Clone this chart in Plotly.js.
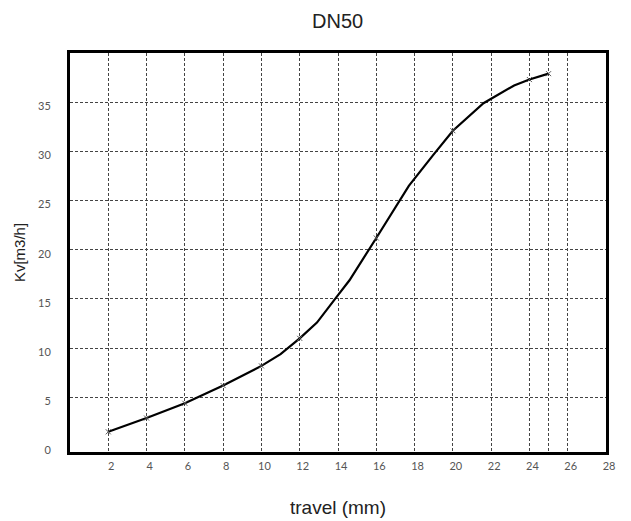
<!DOCTYPE html>
<html>
<head>
<meta charset="utf-8">
<script src="https://cdn.plot.ly/plotly-3.0.1.min.js"></script>
<style>html,body{margin:0;padding:0;background:#fff;}#chart{width:631px;height:521px;}</style>
</head>
<body>
<div id="chart"></div>
<script>
// Curve (travel in mm, Kv in m3/h)
const travel = [2, 4, 6, 8, 10, 11, 12, 12.9, 14, 14.6, 16, 17.7, 19, 20, 21.6, 23.2, 24, 25];
const kv     = [1.5, 2.9, 4.4, 6.2, 8.2, 9.4, 11.0, 12.6, 15.4, 16.9, 21.2, 26.5, 29.7, 32.1, 34.9, 36.7, 37.3, 37.9];
// Measured points marked with small crosses
const markTravel = [2, 4, 6, 8, 10, 12, 16, 20, 24, 25];
const markKv     = [1.5, 2.9, 4.4, 6.2, 8.2, 11.0, 21.2, 32.1, 37.3, 37.9];
// Axis ticks
const xTicks = [2, 4, 6, 8, 10, 12, 14, 16, 18, 20, 22, 24, 26, 28];
const xGridExtra = [25];
const yTicks = [0, 5, 10, 15, 20, 25, 30, 35];
const yGrid = [5, 10, 15, 20, 25, 30, 35];

const tickFont = {family: 'Lato, "DejaVu Sans", sans-serif', size: 11, color: '#555'};
const gridDash = '3px,2px';
const yRange = [-0.55, 40];

const traces = [
  {
    x: travel, y: kv, type: 'scatter', mode: 'lines',
    line: {color: '#000', width: 2.2}, hoverinfo: 'skip', showlegend: false
  },
  {
    x: markTravel, y: markKv, type: 'scatter', mode: 'markers', yaxis: 'y2',
    marker: {symbol: 'x-thin', size: 5, line: {color: '#555', width: 1}},
    hoverinfo: 'skip', showlegend: false
  }
];

const layout = {
  width: 631, height: 521,
  margin: {l: 70, r: 25, t: 53, b: 69},
  paper_bgcolor: '#fff', plot_bgcolor: '#fff',
  title: {text: 'DN50', font: {family: '"Liberation Sans", Arial, sans-serif', size: 20, color: '#222'}, x: 0.535, xanchor: 'center', y: 0.96, yanchor: 'middle'},
  xaxis: {
    range: [0, 28], tickvals: xTicks.concat(xGridExtra), ticktext: xTicks.map(String).concat(['']),
    showgrid: true, gridcolor: '#444', griddash: gridDash, gridwidth: 1,
    zeroline: false, showline: true, linecolor: '#000', linewidth: 3, mirror: true,
    ticks: 'outside', ticklen: 2, tickcolor: 'rgba(0,0,0,0)', ticklabelshift: 3,
    tickfont: tickFont,
    title: {text: 'travel (mm)', font: {family: '"Liberation Sans", Arial, sans-serif', size: 19, color: '#222'}, standoff: 30}
  },
  yaxis: {
    range: yRange, tickvals: yGrid, showticklabels: false,
    showgrid: true, gridcolor: '#444', griddash: gridDash, gridwidth: 1,
    zeroline: false, showline: true, linecolor: '#000', linewidth: 3, mirror: true,
    ticks: '',
    title: {text: 'Kv[m3/h]', font: {family: '"Liberation Sans", Arial, sans-serif', size: 15, color: '#222'}, standoff: 38}
  },
  yaxis2: {
    overlaying: 'y', side: 'left', anchor: 'x',
    range: yRange, tickvals: yTicks, ticktext: yTicks.map(String),
    showgrid: false, zeroline: false, showline: false,
    ticks: 'outside', ticklen: 16, tickcolor: 'rgba(0,0,0,0)', ticklabelshift: 4,
    tickfont: tickFont
  }
};

Plotly.newPlot('chart', traces, layout, {staticPlot: true, displayModeBar: false});
</script>
</body>
</html>
